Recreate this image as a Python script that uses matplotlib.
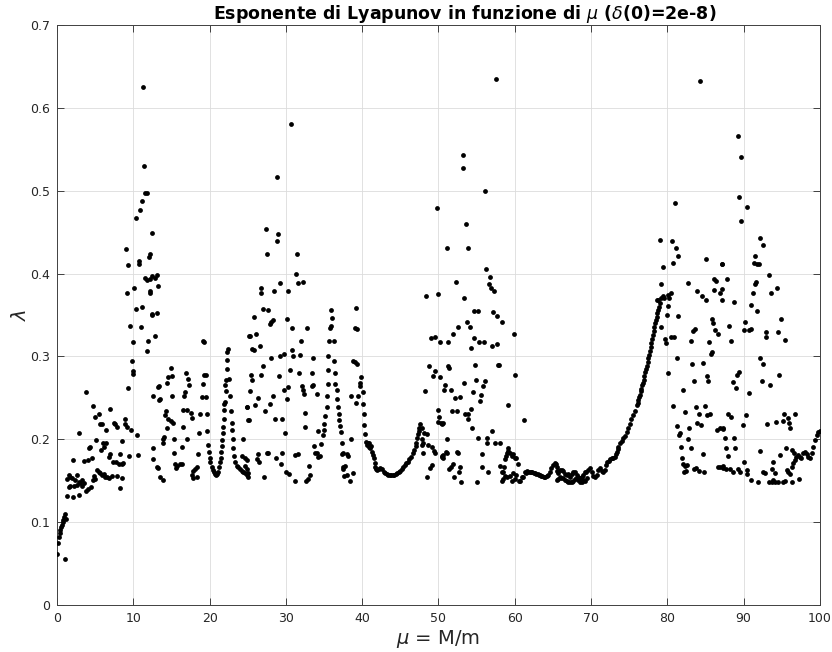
import numpy as np
import matplotlib
matplotlib.use("Agg")
import matplotlib.pyplot as plt

# Lyapunov exponent lambda vs mass ratio mu = M/m, pairs of (mu, lambda)

# small-mu branch
start_branch = [(0.05, 0.062), (0.15, 0.075), (0.25, 0.082), (0.35, 0.087), (0.45, 0.091),
                (0.55, 0.094), (0.65, 0.097), (0.75, 0.100), (0.85, 0.103), (0.95, 0.106),
                (1.05, 0.110), (1.15, 0.104), (1.05, 0.056)]

chaos_0_13 = [(3.8, 0.257), (9.26, 0.262), (4.7, 0.240), (5.46, 0.230), (5.0, 0.227), (6.9, 0.236),
              (5.6, 0.219), (5.9, 0.218), (6.4, 0.211), (7.5, 0.220), (7.8, 0.215), (7.6, 0.218),
              (8.95, 0.224), (8.86, 0.218), (9.17, 0.215), (9.7, 0.211), (10.5, 0.205), (2.84, 0.207),
              (5.1, 0.199), (6.0, 0.195), (6.46, 0.196), (6.2, 0.191), (8.5, 0.198), (4.15, 0.190),
              (4.37, 0.191), (5.8, 0.187), (4.6, 0.178), (3.5, 0.174), (4.0, 0.175), (2.1, 0.175),
              (6.77, 0.179), (7.0, 0.182), (8.3, 0.182), (9.5, 0.180), (10.6, 0.181), (7.4, 0.173),
              (7.75, 0.172), (8.1, 0.170), (8.5, 0.170), (8.7, 0.171), (5.2, 0.163), (5.45, 0.161),
              (5.7, 0.159), (5.9, 0.157), (6.1, 0.158), (6.35, 0.155), (6.55, 0.155), (6.8, 0.153),
              (7.2, 0.156), (7.85, 0.156), (4.8, 0.156), (4.7, 0.151), (5.0, 0.152), (8.5, 0.153),
              (1.53, 0.157), (1.75, 0.155), (1.97, 0.153), (1.31, 0.152), (2.4, 0.151), (2.62, 0.157),
              (2.84, 0.149), (3.06, 0.147), (3.28, 0.151), (3.5, 0.147), (3.28, 0.144), (2.62, 0.145),
              (2.18, 0.144), (1.75, 0.144), (1.53, 0.143), (4.4, 0.143), (4.1, 0.140), (3.8, 0.137),
              (8.2, 0.141), (1.3, 0.131), (2.1, 0.130), (2.9, 0.133),
              (11.3, 0.625), (11.45, 0.530), (11.6, 0.497), (11.75, 0.497), (11.2, 0.488),
              (10.9, 0.477), (10.3, 0.467), (12.5, 0.449), (9.04, 0.430), (9.35, 0.410),
              (10.7, 0.415), (10.8, 0.412), (12.1, 0.420), (11.5, 0.395), (11.85, 0.392),
              (12.2, 0.393), (12.5, 0.397), (9.2, 0.376), (10.1, 0.383), (12.2, 0.376),
              (10.4, 0.357), (11.1, 0.360), (12.4, 0.351), (9.6, 0.337), (11.0, 0.336),
              (12.8, 0.325), (11.9, 0.318), (9.9, 0.317), (11.75, 0.307), (9.8, 0.294),
              (10.0, 0.282), (9.95, 0.279), (12.6, 0.252), (12.6, 0.189)]

chaos_12_25 = [(12.2, 0.423), (12.85, 0.395), (13.06, 0.398), (12.2, 0.379), (13.3, 0.385),
               (12.4, 0.350), (13.06, 0.352), (19.2, 0.318), (19.3, 0.317), (25.17, 0.325),
               (14.9, 0.286), (14.59, 0.275), (15.03, 0.276), (14.46, 0.268), (13.41, 0.264),
               (13.3, 0.263), (13.4, 0.247), (13.5, 0.249), (16.9, 0.280), (17.21, 0.273),
               (17.3, 0.265), (16.77, 0.257), (16.69, 0.252), (19.26, 0.277), (19.48, 0.278),
               (19.18, 0.267), (18.96, 0.251), (19.53, 0.251), (22.59, 0.273), (22.02, 0.266),
               (22.68, 0.252), (15.03, 0.252), (14.3, 0.234), (14.2, 0.229), (14.59, 0.224),
               (14.9, 0.222), (15.16, 0.220), (16.56, 0.235), (17.0, 0.235), (17.52, 0.232),
               (17.65, 0.226), (14.37, 0.213), (16.47, 0.215), (18.74, 0.230), (19.61, 0.230),
               (21.89, 0.243), (22.8, 0.234), (22.89, 0.220), (13.94, 0.200), (13.85, 0.195),
               (14.0, 0.203), (15.33, 0.200), (17.08, 0.200), (18.65, 0.207), (19.7, 0.210),
               (16.34, 0.191), (24.86, 0.239), (25.08, 0.223), (24.33, 0.200), (15.38, 0.183),
               (12.6, 0.176), (13.06, 0.166), (13.2, 0.165), (13.5, 0.155), (13.94, 0.151),
               (15.47, 0.170), (15.68, 0.168), (16.12, 0.170), (16.34, 0.170), (15.6, 0.165),
               (18.52, 0.182), (17.87, 0.162), (18.09, 0.164), (18.3, 0.166), (17.65, 0.157),
               (17.87, 0.153), (18.3, 0.155), (24.2, 0.180), (24.64, 0.177), (24.86, 0.175)]

# U-shaped windows near mu = 20 and 23-25
window_20 = [(19.83, 0.193), (19.9, 0.185), (20.0, 0.178), (20.1, 0.172), (20.27, 0.167),
             (20.4, 0.163), (20.55, 0.160), (20.7, 0.158), (20.85, 0.157), (21.0, 0.158),
             (21.15, 0.160), (21.28, 0.166), (21.36, 0.172), (21.45, 0.178), (21.52, 0.185),
             (21.58, 0.192), (21.65, 0.199), (21.7, 0.207), (21.78, 0.215), (21.85, 0.224),
             (21.92, 0.235), (22.0, 0.245), (22.1, 0.258), (22.2, 0.272), (22.25, 0.285),
             (22.3, 0.296), (22.32, 0.305), (22.35, 0.309)]

window_23 = [(22.89, 0.211), (23.02, 0.200), (23.11, 0.189), (23.2, 0.180), (23.33, 0.173),
             (23.55, 0.168), (23.77, 0.166), (23.98, 0.164), (24.2, 0.162), (24.42, 0.161),
             (24.64, 0.159), (24.86, 0.157), (25.08, 0.154)]

chaos_25_38 = [(30.67, 0.580), (28.88, 0.516), (27.35, 0.454), (29.0, 0.448), (28.79, 0.439),
               (27.56, 0.424), (31.41, 0.424), (31.32, 0.399), (31.54, 0.388), (32.28, 0.390),
               (26.74, 0.382), (26.7, 0.376), (29.2, 0.389), (28.49, 0.379), (30.23, 0.379),
               (27.04, 0.357), (27.61, 0.356), (25.8, 0.348), (30.1, 0.345), (28.35, 0.344),
               (28.1, 0.341), (27.9, 0.339), (30.84, 0.334), (32.8, 0.334), (25.29, 0.325),
               (26.08, 0.327), (35.91, 0.356), (36.08, 0.346), (35.91, 0.337), (35.78, 0.334),
               (31.98, 0.318), (25.6, 0.309), (25.86, 0.308), (26.6, 0.312), (35.69, 0.318),
               (36.3, 0.318), (30.76, 0.308), (30.97, 0.300), (31.85, 0.302), (29.8, 0.303),
               (29.2, 0.300), (28.1, 0.298), (33.6, 0.298), (33.37, 0.280), (35.56, 0.300),
               (36.34, 0.294), (27.04, 0.289), (25.43, 0.277), (25.6, 0.271), (30.54, 0.284),
               (31.71, 0.280), (35.56, 0.283), (36.43, 0.280), (29.1, 0.276), (26.8, 0.278),
               (35.47, 0.267), (36.43, 0.267), (30.32, 0.263), (29.8, 0.259), (30.1, 0.249),
               (32.07, 0.264), (32.28, 0.259), (32.41, 0.255), (33.37, 0.264), (33.6, 0.265),
               (34.03, 0.255), (25.29, 0.258), (26.3, 0.250), (25.95, 0.241), (24.86, 0.239),
               (28.27, 0.252), (27.9, 0.242), (25.16, 0.223), (27.26, 0.234), (35.34, 0.252),
               (35.34, 0.239), (35.12, 0.228), (35.03, 0.218), (34.99, 0.211), (34.82, 0.205),
               (36.65, 0.259), (36.65, 0.248), (36.87, 0.239), (36.96, 0.230), (37.0, 0.223),
               (37.09, 0.216), (37.22, 0.209), (37.31, 0.195), (32.5, 0.232), (28.57, 0.225),
               (29.45, 0.225), (32.5, 0.215), (34.25, 0.210), (29.88, 0.207), (33.72, 0.192),
               (33.81, 0.184), (34.03, 0.183), (34.25, 0.179), (34.46, 0.180), (34.6, 0.194),
               (26.38, 0.182), (26.2, 0.176), (26.47, 0.173), (27.48, 0.184), (27.7, 0.183),
               (29.53, 0.183), (31.19, 0.181), (31.63, 0.182), (28.7, 0.177), (29.36, 0.170),
               (24.64, 0.168), (24.86, 0.164), (25.07, 0.159), (27.17, 0.155), (29.97, 0.161),
               (30.45, 0.158), (31.19, 0.150), (32.63, 0.150), (32.94, 0.152), (33.15, 0.157),
               (33.07, 0.168), (37.4, 0.182), (37.53, 0.164), (37.66, 0.156)]

chaos_37_40 = [(37.44, 0.184), (37.97, 0.182), (38.18, 0.180), (37.53, 0.166), (37.75, 0.168),
               (37.97, 0.157), (38.4, 0.150), (38.84, 0.159), (38.53, 0.200), (39.18, 0.358),
               (39.05, 0.334), (39.36, 0.333), (38.75, 0.295), (39.05, 0.293), (39.36, 0.291),
               (38.6, 0.252), (39.18, 0.244), (39.49, 0.252), (39.7, 0.268), (39.84, 0.275),
               (39.7, 0.264), (40.06, 0.257)]

# periodic window 40-47.6
window_40 = [(40.15, 0.243), (40.2, 0.230), (40.3, 0.217), (40.4, 0.206), (40.55, 0.197),
             (40.65, 0.193), (40.75, 0.196), (40.85, 0.191), (40.95, 0.195), (41.05, 0.190),
             (41.2, 0.192), (41.35, 0.185), (41.45, 0.181), (41.55, 0.177), (41.65, 0.171),
             (41.7, 0.167), (41.8, 0.164), (42.0, 0.163), (42.2, 0.164), (42.4, 0.165),
             (42.6, 0.164), (42.8, 0.161), (43.0, 0.159), (43.2, 0.158), (43.4, 0.157),
             (43.6, 0.157), (43.8, 0.157), (44.0, 0.157), (44.2, 0.157), (44.4, 0.158),
             (44.6, 0.159), (44.8, 0.161), (45.0, 0.162), (45.2, 0.164), (45.4, 0.166),
             (45.6, 0.169), (45.8, 0.171), (46.0, 0.173), (46.2, 0.176), (46.4, 0.179),
             (46.6, 0.183), (46.8, 0.187), (47.0, 0.192), (47.1, 0.196), (47.2, 0.201),
             (47.3, 0.206), (47.4, 0.210), (47.5, 0.214), (47.6, 0.218)]

chaos_47_62 = [(47.88, 0.213), (48.1, 0.207), (48.45, 0.206), (47.79, 0.200), (48.0, 0.196),
               (47.88, 0.193), (48.67, 0.193), (49.1, 0.191), (47.93, 0.184), (49.41, 0.186),
               (49.54, 0.184), (50.98, 0.185), (50.41, 0.179), (50.54, 0.178), (49.1, 0.169),
               (48.88, 0.165), (48.45, 0.155), (49.98, 0.235), (50.1, 0.227), (50.28, 0.220),
               (50.54, 0.220), (51.07, 0.200), (51.4, 0.164), (49.85, 0.479), (48.4, 0.373),
               (49.9, 0.375), (48.97, 0.322), (49.6, 0.323), (50.2, 0.317), (48.8, 0.289),
               (49.3, 0.276), (49.5, 0.282), (50.2, 0.275), (48.3, 0.258),
               (57.54, 0.635), (53.26, 0.543), (53.17, 0.527), (56.09, 0.500), (53.6, 0.460),
               (51.15, 0.431), (53.91, 0.431), (56.22, 0.406), (56.75, 0.396), (56.62, 0.387),
               (56.84, 0.383), (57.27, 0.379), (52.25, 0.390), (53.34, 0.370), (54.7, 0.355),
               (55.22, 0.355), (53.69, 0.341), (54.13, 0.335), (57.19, 0.353), (57.71, 0.349),
               (58.28, 0.341), (52.51, 0.336), (51.86, 0.327), (51.28, 0.317), (54.7, 0.322),
               (55.31, 0.317), (55.96, 0.317), (54.26, 0.310), (57.05, 0.313), (57.62, 0.315),
               (59.9, 0.327), (51.2, 0.289), (51.42, 0.286), (50.85, 0.266), (50.76, 0.259),
               (51.64, 0.260), (54.78, 0.290), (57.84, 0.290), (57.93, 0.290), (60.02, 0.277),
               (53.39, 0.268), (54.87, 0.272), (56.09, 0.270), (55.87, 0.264), (55.52, 0.254),
               (55.44, 0.246), (54.56, 0.257), (52.16, 0.250), (52.81, 0.251), (50.5, 0.218),
               (49.98, 0.221), (51.72, 0.234), (52.38, 0.234), (53.47, 0.231), (53.91, 0.230),
               (54.26, 0.236), (53.82, 0.224), (54.43, 0.213), (59.15, 0.241), (61.2, 0.223),
               (55.13, 0.201), (56.31, 0.201), (56.4, 0.195), (56.97, 0.210), (57.41, 0.195),
               (58.06, 0.195), (50.41, 0.180), (50.63, 0.181), (51.07, 0.184), (52.38, 0.185),
               (52.6, 0.183), (55.74, 0.182), (51.64, 0.166), (51.94, 0.170), (52.81, 0.167),
               (52.69, 0.161), (55.65, 0.166), (56.53, 0.160), (52.08, 0.155), (52.95, 0.149),
               (55.0, 0.149),
               (58.06, 0.168), (58.28, 0.161), (58.5, 0.161), (58.6, 0.166), (58.7, 0.176),
               (58.82, 0.180), (58.94, 0.184), (59.05, 0.186), (59.15, 0.189), (59.4, 0.184),
               (59.6, 0.180), (59.8, 0.182), (60.0, 0.178), (60.2, 0.178), (60.4, 0.170),
               (58.3, 0.150), (58.5, 0.152), (58.7, 0.156), (58.94, 0.155), (59.4, 0.156),
               (59.6, 0.150), (59.8, 0.159), (60.0, 0.152), (60.2, 0.157), (60.5, 0.150),
               (60.7, 0.150), (60.9, 0.155), (61.1, 0.155), (61.3, 0.161), (61.45, 0.159),
               (61.55, 0.162), (61.8, 0.161)]

# long quasi-periodic stretch 62-79
window_62 = [(62.0, 0.161), (62.15, 0.160), (62.3, 0.160), (62.5, 0.159), (62.65, 0.159),
             (62.8, 0.158), (63.0, 0.158), (63.15, 0.157), (63.3, 0.157), (63.45, 0.156),
             (63.6, 0.156), (63.8, 0.155), (63.96, 0.155), (64.2, 0.156), (64.4, 0.157),
             (64.6, 0.161), (64.8, 0.165), (65.05, 0.169), (65.25, 0.171), (65.4, 0.170),
             (65.5, 0.166), (65.6, 0.162), (65.7, 0.159), (65.93, 0.155),
             (65.93, 0.163), (66.15, 0.163), (66.36, 0.162), (66.6, 0.158), (66.8, 0.157),
             (67.0, 0.158), (67.24, 0.155), (67.45, 0.158), (67.67, 0.161), (67.9, 0.160),
             (68.11, 0.157), (68.3, 0.155), (68.55, 0.153), (68.75, 0.154), (68.98, 0.157),
             (69.2, 0.160), (69.4, 0.161), (69.64, 0.163), (69.86, 0.165), (70.08, 0.160),
             (70.3, 0.156), (70.5, 0.155),
             (65.49, 0.151), (65.7, 0.152), (66.0, 0.153), (66.36, 0.153), (66.6, 0.151),
             (66.8, 0.150), (67.02, 0.149), (67.24, 0.148), (67.45, 0.148), (67.67, 0.150),
             (67.9, 0.152), (68.11, 0.153), (68.33, 0.151), (68.55, 0.149), (68.76, 0.148),
             (68.98, 0.151), (69.2, 0.150), (69.42, 0.153),
             (70.73, 0.157), (70.95, 0.163), (71.17, 0.165), (71.4, 0.162), (71.6, 0.160),
             (71.8, 0.163), (72.0, 0.169), (72.15, 0.172), (72.3, 0.174), (72.5, 0.176),
             (72.7, 0.177), (72.9, 0.178), (73.1, 0.179), (73.25, 0.182), (73.35, 0.185),
             (73.47, 0.188), (73.57, 0.191), (73.8, 0.195), (74.0, 0.198), (74.2, 0.201),
             (74.45, 0.204), (74.67, 0.209), (74.9, 0.213), (75.1, 0.218), (75.3, 0.224),
             (75.5, 0.229), (75.75, 0.234), (76.0, 0.241), (76.1, 0.244), (76.2, 0.247),
             (76.3, 0.251), (76.4, 0.254), (76.5, 0.258), (76.6, 0.261), (76.7, 0.265),
             (76.8, 0.268), (76.9, 0.272), (77.0, 0.276),
             (77.1, 0.281), (77.2, 0.285), (77.3, 0.289), (77.4, 0.293), (77.5, 0.298),
             (77.6, 0.302), (77.7, 0.307), (77.8, 0.311), (77.9, 0.316), (78.0, 0.321),
             (78.1, 0.326), (78.2, 0.331), (78.3, 0.335), (78.4, 0.340), (78.5, 0.344),
             (78.6, 0.348), (78.7, 0.352), (78.8, 0.356), (78.9, 0.360), (79.0, 0.364)]

chaos_78_87 = [(78.59, 0.368), (78.81, 0.368), (79.16, 0.371), (79.47, 0.373), (79.6, 0.370),
               (80.12, 0.374), (80.25, 0.371), (80.47, 0.377), (80.03, 0.361), (79.9, 0.350),
               (79.16, 0.335), (79.68, 0.321), (79.77, 0.316), (80.47, 0.323), (80.91, 0.323),
               (81.21, 0.298), (80.03, 0.280), (81.43, 0.349), (79.12, 0.387), (79.38, 0.408),
               (79.03, 0.440), (80.65, 0.439), (81.08, 0.431), (81.43, 0.421), (80.69, 0.413),
               (81.0, 0.485), (84.27, 0.632), (85.05, 0.417), (86.15, 0.394), (86.32, 0.391),
               (86.15, 0.380), (87.1, 0.411), (86.88, 0.377), (87.1, 0.368), (82.74, 0.389),
               (83.91, 0.379), (84.48, 0.373), (85.05, 0.368), (83.4, 0.331), (83.6, 0.333),
               (83.09, 0.319), (85.89, 0.345), (85.93, 0.340), (86.24, 0.332), (86.58, 0.327),
               (85.49, 0.317), (85.8, 0.305), (85.71, 0.303), (83.27, 0.291), (84.7, 0.292),
               (83.48, 0.270), (85.14, 0.276), (85.36, 0.270), (82.09, 0.260), (80.78, 0.240),
               (82.3, 0.233), (83.74, 0.239), (84.92, 0.240), (84.13, 0.230), (85.14, 0.229),
               (85.58, 0.231), (82.87, 0.213), (83.91, 0.220), (84.4, 0.217), (81.21, 0.216),
               (81.65, 0.208), (81.56, 0.205), (82.74, 0.200), (86.45, 0.211), (86.88, 0.213),
               (87.32, 0.214), (81.78, 0.191), (83.05, 0.190), (84.61, 0.182), (81.87, 0.178),
               (82.09, 0.170), (82.3, 0.168), (82.52, 0.169), (82.22, 0.161), (82.43, 0.162),
               (83.48, 0.164), (83.74, 0.165), (84.13, 0.162), (84.79, 0.161), (86.67, 0.166),
               (87.32, 0.168)]

chaos_87_100 = [(89.2, 0.566), (89.6, 0.541), (89.4, 0.492), (90.5, 0.480), (89.6, 0.464),
                (92.1, 0.443), (92.5, 0.434), (91.5, 0.421), (91.3, 0.413), (91.7, 0.411),
                (92.0, 0.411), (87.2, 0.411), (93.3, 0.398), (87.8, 0.394), (87.1, 0.381),
                (93.6, 0.377), (94.4, 0.382), (91.6, 0.390), (91.5, 0.387), (91.2, 0.376),
                (91.0, 0.362), (91.8, 0.355), (88.8, 0.366), (88.1, 0.337), (88.4, 0.318),
                (90.2, 0.341), (90.0, 0.332), (90.75, 0.332), (90.9, 0.333), (92.9, 0.330),
                (92.9, 0.323), (94.9, 0.345), (95.4, 0.320), (94.5, 0.329), (92.2, 0.298),
                (92.5, 0.291), (89.36, 0.281), (89.1, 0.278), (88.6, 0.269), (89.0, 0.262),
                (92.4, 0.270), (93.5, 0.266), (94.7, 0.277), (90.7, 0.256), (88.0, 0.230),
                (88.3, 0.227), (90.3, 0.229), (89.86, 0.217), (93.08, 0.218), (94.3, 0.221),
                (95.1, 0.222), (95.85, 0.226), (95.28, 0.230), (96.7, 0.230), (95.98, 0.220),
                (96.07, 0.214), (92.2, 0.186), (90.04, 0.173), (93.79, 0.173), (94.76, 0.181),
                (95.54, 0.190), (96.4, 0.187), (96.58, 0.183), (89.5, 0.161), (90.39, 0.163),
                (90.48, 0.158), (90.9, 0.151), (91.92, 0.149), (92.56, 0.161), (92.78, 0.159),
                (93.66, 0.164), (94.1, 0.159), (93.88, 0.151), (93.35, 0.149), (93.66, 0.149),
                (94.1, 0.149), (94.53, 0.149), (95.2, 0.149), (95.41, 0.150), (95.63, 0.163),
                (95.85, 0.161), (96.07, 0.158), (96.28, 0.149), (97.28, 0.152), (87.3, 0.212),
                (87.6, 0.202), (87.7, 0.190), (87.9, 0.180), (88.7, 0.202), (88.9, 0.189),
                (86.9, 0.166), (87.3, 0.165), (87.7, 0.164), (88.2, 0.164), (88.6, 0.160),
                (89.3, 0.164)]

end_branch = [(96.28, 0.167), (96.5, 0.171), (96.7, 0.175), (96.9, 0.179), (97.15, 0.181),
              (97.37, 0.179), (97.58, 0.178), (97.8, 0.183), (98.0, 0.185), (98.25, 0.182),
              (98.46, 0.179), (98.7, 0.177), (98.9, 0.183), (99.1, 0.191), (99.34, 0.199),
              (99.56, 0.205), (99.78, 0.209), (99.99, 0.210)]

segments = [start_branch, chaos_0_13, chaos_12_25, window_20, window_23, chaos_25_38,
            chaos_37_40, window_40, chaos_47_62, window_62, chaos_78_87, chaos_87_100, end_branch]
pts = np.array([p for seg in segments for p in seg])

plt.rcParams['font.family'] = 'DejaVu Sans'
fig = plt.figure(figsize=(8.32, 6.52), dpi=100)
ax = fig.add_axes([0.0685, 0.0721, 0.917, 0.8896])

ax.scatter(pts[:, 0], pts[:, 1], s=12, c='black', marker='o', linewidths=0, zorder=3)

ax.set_xlim(0, 100)
ax.set_ylim(0, 0.7)
ax.set_xticks(np.arange(0, 101, 10))
ax.set_yticks(np.arange(0, 0.71, 0.1))
ax.set_yticklabels(['0', '0.1', '0.2', '0.3', '0.4', '0.5', '0.6', '0.7'])

axis_gray = '#262626'
ax.grid(True, color='#dcdcdc', linewidth=0.6)
ax.set_axisbelow(True)
for sp in ax.spines.values():
    sp.set_color('#404040')
    sp.set_linewidth(0.7)
ax.tick_params(direction='in', length=5, width=0.6, colors=axis_gray, labelsize=9,
               top=True, right=True, pad=5)

ax.set_title(r'Esponente di Lyapunov in funzione di $\mu$ ($\delta$(0)=2e-8)',
             fontsize=12.5, fontweight='bold', color='black', pad=4, x=0.535)
ax.set_xlabel(r'$\mu$ = M/m', fontsize=14, color=axis_gray, labelpad=2)
ax.set_ylabel(r'$\lambda$', fontsize=14, color=axis_gray, labelpad=0)

fig.savefig('out.png', dpi=100)
